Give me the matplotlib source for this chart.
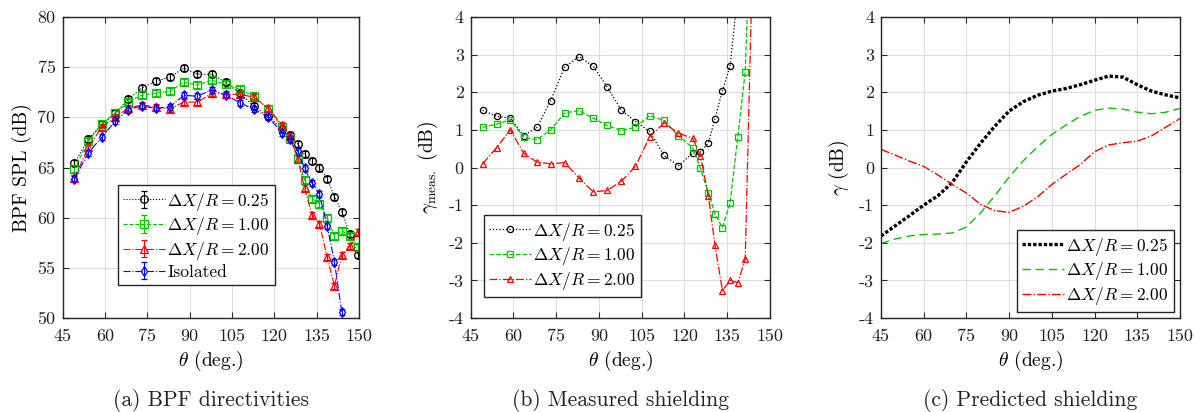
import matplotlib
matplotlib.use("Agg")
import matplotlib.pyplot as plt

# ---------------- data ----------------
theta = [49.2, 54.1, 58.9, 63.6, 68.3, 73.0, 78.0, 83.0, 88.0, 92.8, 97.8, 102.8, 107.8,
         112.8, 117.9, 122.9, 125.6, 128.4, 130.7, 133.3, 136.0, 138.7, 141.3, 143.9,
         146.7, 149.6]

spl_025 = [65.4, 67.8, 69.3, 70.4, 71.8, 72.9, 73.6, 74.0, 74.9, 74.3, 74.3, 73.5, 72.4,
           71.1, 70.1, 68.8, 68.2, 67.3, 66.3, 65.6, 65.0, 63.9, 62.1, 60.6, 58.4, 56.3]
spl_100 = [64.9, 67.6, 69.3, 70.4, 71.5, 72.2, 72.4, 72.6, 73.5, 73.2, 73.7, 73.3, 72.8,
           72.1, 70.8, 69.0, 67.8, 65.9, 63.8, 61.9, 61.4, 60.0, 58.2, 58.7, 58.2, 57.1]
spl_200 = [63.95, 67.0, 69.0, 70.0, 70.9, 71.25, 71.0, 70.8, 71.55, 71.5, 72.4, 72.3, 72.3,
           72.0, 70.9, 69.2, 68.1, 65.8, 63.0, 60.3, 59.4, 56.1, 53.2, 56.25, 57.15, 58.6]
spl_iso = [63.85, 66.45, 68.0, 69.6, 70.75, 71.15, 70.9, 71.05, 72.2, 72.1, 72.75, 72.25,
           71.45, 70.8, 70.0, 68.45, 67.8, 66.6, 64.95, 63.5, 62.35, 59.2, 55.6, 50.6]
spl_err = 0.3

gm_025 = [1.52, 1.36, 1.31, 0.84, 1.07, 1.77, 2.67, 2.95, 2.69, 2.15, 1.53, 1.22, 0.96,
          0.32, 0.05, 0.38, 0.41, 0.65, 1.30, 2.04, 2.69, 4.65, 6.5, 10.0]
gm_100 = [1.07, 1.15, 1.27, 0.80, 0.74, 1.00, 1.45, 1.51, 1.31, 1.12, 0.98, 1.07, 1.38,
          1.25, 0.84, 0.52, -0.02, -0.68, -1.23, -1.60, -0.95, 0.82, 2.54, 8.1]
gm_200 = [0.10, 0.53, 1.00, 0.38, 0.14, 0.10, 0.13, -0.28, -0.65, -0.61, -0.37, 0.03, 0.82,
          1.18, 0.91, 0.78, 0.31, -0.77, -2.07, -3.27, -3.00, -3.06, -2.44, 5.65]

theta_c = [45, 50, 55, 60, 65, 70, 75, 80, 85, 90, 95, 100, 105, 110, 115, 120, 125, 130,
           135, 140, 145, 150]
gp_025 = [-1.82, -1.55, -1.28, -1.0, -0.75, -0.4, 0.15, 0.65, 1.1, 1.5, 1.75, 1.92, 2.03,
          2.1, 2.2, 2.32, 2.43, 2.4, 2.2, 2.03, 1.93, 1.85]
gp_100 = [-2.02, -1.9, -1.82, -1.78, -1.77, -1.74, -1.58, -1.2, -0.75, -0.25, 0.18, 0.55,
          0.88, 1.13, 1.36, 1.52, 1.58, 1.55, 1.47, 1.43, 1.47, 1.57]
gp_200 = [0.48, 0.33, 0.17, 0.03, -0.2, -0.45, -0.68, -0.98, -1.15, -1.19, -1.03, -0.78,
          -0.45, -0.18, 0.08, 0.42, 0.6, 0.66, 0.7, 0.84, 1.07, 1.3]

labels = [r'$\Delta X/R = 0.25$', r'$\Delta X/R = 1.00$', r'$\Delta X/R = 2.00$', 'Isolated']
captions = ['(a) BPF directivities', '(b) Measured shielding', '(c) Predicted shielding']
xticks = [45, 60, 75, 90, 105, 120, 135, 150]

# ---------------- style ----------------
plt.rcParams['font.family'] = ['cmr10', 'DejaVu Serif']
plt.rcParams['mathtext.fontset'] = 'cm'
plt.rcParams['axes.unicode_minus'] = False
plt.rcParams['axes.formatter.use_mathtext'] = False

BLACK = 'k'
GREEN = '#00c400'
RED = '#ff0000'
BLUE = '#0000ff'
AXC = '#262626'

W, H = 1195, 412
fig = plt.figure(figsize=(W / 100, H / 100), dpi=100)

def box(x0, x1, y0=17, y1=318):
    return [x0 / W, 1 - y1 / H, (x1 - x0) / W, (y1 - y0) / H]

ax_a = fig.add_axes(box(62.5, 359))
ax_b = fig.add_axes(box(470.7, 770))
ax_c = fig.add_axes(box(881, 1180))

TICKFS = 13
LABFS = 14
LEGFS = 12.5

def style(ax):
    ax.set_xlim(45, 150)
    ax.set_xticks(xticks)
    ax.grid(True, color='#dedede', linewidth=0.8)
    ax.set_axisbelow(True)
    for s in ax.spines.values():
        s.set_color(AXC)
        s.set_linewidth(1.0)
    ax.tick_params(direction='in', top=True, right=True, length=4, width=0.8,
                   color=AXC, labelsize=TICKFS, labelcolor='#222222', pad=5)
    ax.tick_params(axis='x', pad=8)
    ax.set_xlabel(r'$\theta$ (deg.)', fontsize=LABFS, labelpad=3)

# ---- panel (a)
kw = dict(capsize=2.5, elinewidth=0.8, linewidth=0.8, markersize=5.5,
          markerfacecolor='none', markeredgewidth=0.9, capthick=0.8)
ax_a.errorbar(theta, spl_025, yerr=spl_err, color=BLACK, linestyle=':', marker='o', label=labels[0], **kw)
ax_a.errorbar(theta, spl_100, yerr=spl_err, color=GREEN, linestyle='--', marker='s', label=labels[1], **kw)
ax_a.errorbar(theta, spl_200, yerr=spl_err, color=RED, linestyle='-.', marker='^', label=labels[2], **kw)
ax_a.errorbar(theta[:len(spl_iso)], spl_iso, yerr=spl_err, color=BLUE, linestyle='-.', marker='d',
              label=labels[3], **kw)
style(ax_a)
ax_a.set_ylim(50, 80)
ax_a.set_yticks([50, 55, 60, 65, 70, 75, 80])
ax_a.set_ylabel('BPF SPL (dB)', fontsize=LABFS, labelpad=4)

legkw = dict(fontsize=LEGFS, fancybox=False, framealpha=1, edgecolor=AXC,
             handlelength=2.4, handletextpad=0.15, borderpad=0.3, labelspacing=0.15,
             borderaxespad=0)
la = ax_a.legend(loc='lower left', bbox_to_anchor=(0.187, 0.11), **legkw)
la.get_frame().set_linewidth(1.0)

# ---- panel (b)
n = len(gm_025)
kwb = dict(linewidth=0.9, markersize=4.5, markerfacecolor='none', markeredgewidth=0.9)
ax_b.plot(theta[:n], gm_025, color=BLACK, linestyle=':', marker='o', label=labels[0], **kwb)
ax_b.plot(theta[:n], gm_100, color=GREEN, linestyle='--', marker='s', label=labels[1], **kwb)
ax_b.plot(theta[:n], gm_200, color=RED, linestyle='-.', marker='^', label=labels[2], **kwb)
style(ax_b)
ax_b.set_ylim(-4, 4)
ax_b.set_yticks(range(-4, 5))
ax_b.set_ylabel(r'$\gamma_{\mathrm{meas.}}$ (dB)', fontsize=LABFS, labelpad=6)
lb = ax_b.legend(loc='lower left', bbox_to_anchor=(0.044, 0.07), **legkw)
lb.get_frame().set_linewidth(1.0)

# ---- panel (c)
ax_c.plot(theta_c, gp_025, color=BLACK, linestyle=(0, (1, 0.6)), linewidth=2.4, label=labels[0])
ax_c.plot(theta_c, gp_100, color=GREEN, linestyle=(0, (6, 3.5)), linewidth=1.0, label=labels[1])
ax_c.plot(theta_c, gp_200, color=RED, linestyle='-.', linewidth=1.0, label=labels[2])
style(ax_c)
ax_c.set_ylim(-4, 4)
ax_c.set_yticks(range(-4, 5))
ax_c.set_ylabel(r'$\gamma$ (dB)', fontsize=LABFS, labelpad=6)
lc = ax_c.legend(loc='lower right', bbox_to_anchor=(0.98, 0.02), **legkw)
lc.get_frame().set_linewidth(1.0)

# ---- captions
for ax, cap in zip([ax_a, ax_b, ax_c], captions):
    pos = ax.get_position()
    fig.text(pos.x0 + pos.width / 2, 1 - 401 / H, cap, ha='center', va='center', fontsize=15.5,
             color='#222222')

fig.savefig('out.png', dpi=100)
